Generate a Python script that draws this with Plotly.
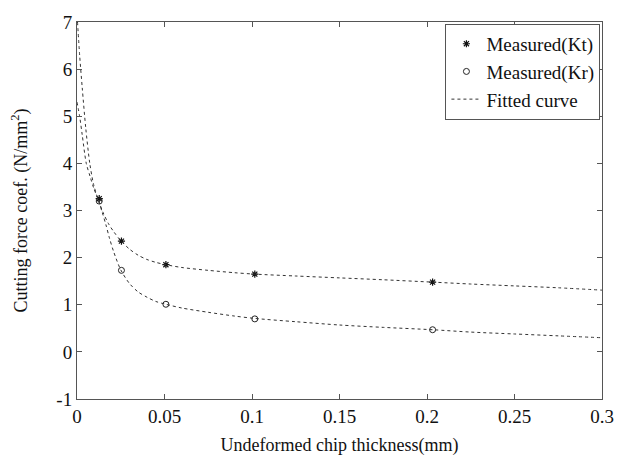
import plotly.graph_objects as go

# Measured data
h_meas = [0.0127, 0.0254, 0.0508, 0.1016, 0.2032]
kt_meas = [3.25, 2.35, 1.85, 1.65, 1.48]
kr_meas = [3.20, 1.73, 1.01, 0.70, 0.47]

# Fitted curves
kt_fit_x = [0.0003, 0.0015, 0.003, 0.005, 0.0073, 0.0095, 0.0122, 0.015, 0.018, 0.021,
            0.025, 0.03, 0.035, 0.04, 0.045, 0.0508, 0.06, 0.075, 0.09, 0.1016,
            0.125, 0.15, 0.175, 0.2032, 0.225, 0.25, 0.275, 0.3]
kt_fit_y = [7.0, 6.3, 5.6, 4.75, 4.0, 3.55, 3.22, 2.95, 2.72, 2.55,
            2.36, 2.18, 2.05, 1.96, 1.9, 1.85, 1.79, 1.73, 1.68, 1.65,
            1.61, 1.57, 1.53, 1.48, 1.44, 1.40, 1.36, 1.31]
kr_fit_x = [0.0, 0.0015, 0.003, 0.0053, 0.0075, 0.0095, 0.0122, 0.0145, 0.0165, 0.0185,
            0.021, 0.025, 0.03, 0.035, 0.04, 0.045, 0.0508, 0.06, 0.075, 0.09,
            0.1016, 0.125, 0.15, 0.175, 0.2032, 0.225, 0.25, 0.275, 0.3]
kr_fit_y = [5.3, 5.0, 4.6, 4.0, 3.72, 3.48, 3.22, 2.95, 2.7, 2.42,
            2.12, 1.74, 1.45, 1.27, 1.16, 1.07, 1.01, 0.93, 0.84, 0.76,
            0.71, 0.64, 0.57, 0.52, 0.47, 0.42, 0.38, 0.34, 0.30]

x_ticks = [0, 0.05, 0.1, 0.15, 0.2, 0.25, 0.3]
x_tick_labels = ["0", "0.05", "0.1", "0.15", "0.2", "0.25", "0.3"]
y_ticks = [-1, 0, 1, 2, 3, 4, 5, 6, 7]
y_tick_labels = ["-1", "0", "1", "2", "3", "4", "5", "6", "7"]

FONT = "Times New Roman, Liberation Serif, serif"
AX = "#555555"

fig = go.Figure()
fig.add_trace(go.Scatter(x=h_meas, y=kt_meas, mode="markers", name="Measured(Kt)",
                         marker=dict(symbol="asterisk-open", size=6, color="#111111",
                                     line=dict(width=1.2, color="#111111"))))
fig.add_trace(go.Scatter(x=h_meas, y=kr_meas, mode="markers", name="Measured(Kr)",
                         marker=dict(symbol="circle-open", size=6, color="#222222",
                                     line=dict(width=1, color="#222222"))))
fig.add_trace(go.Scatter(x=kt_fit_x, y=kt_fit_y, mode="lines", name="Fitted curve",
                         line=dict(color="#333333", width=1, dash="dot", shape="spline", smoothing=0.8)))
fig.add_trace(go.Scatter(x=kr_fit_x, y=kr_fit_y, mode="lines", name="Fitted curve", showlegend=False,
                         line=dict(color="#333333", width=1, dash="dot", shape="spline", smoothing=0.8)))

fig.update_layout(
    width=630, height=463,
    margin=dict(l=77, r=28, t=17, b=58),
    paper_bgcolor="white", plot_bgcolor="white",
    font=dict(family=FONT, size=19, color="#111111"),
    legend=dict(x=0.997, xanchor="right", y=0.995, yanchor="top",
                bordercolor=AX, borderwidth=1, bgcolor="white",
                font=dict(family=FONT, size=19), tracegroupgap=0,
                itemwidth=30),
    xaxis=dict(range=[0, 0.3], tickvals=x_ticks, ticktext=x_tick_labels,
               tickfont=dict(family=FONT, size=19),
               showgrid=False, zeroline=False, showline=True, linecolor=AX, linewidth=1,
               mirror="ticks", ticks="inside", ticklen=5, tickcolor=AX,
               title=dict(text="Undeformed chip thickness(mm)", font=dict(family=FONT, size=18), standoff=12)),
    yaxis=dict(range=[-1, 7], tickvals=y_ticks, ticktext=y_tick_labels,
               tickfont=dict(family=FONT, size=19),
               showgrid=False, zeroline=False, showline=True, linecolor=AX, linewidth=1,
               mirror="ticks", ticks="inside", ticklen=5, tickcolor=AX,
               title=dict(text="Cutting force coef. (N/mm<sup>2</sup>)", font=dict(family=FONT, size=18), standoff=24)),
)

fig.write_html("out.html")
